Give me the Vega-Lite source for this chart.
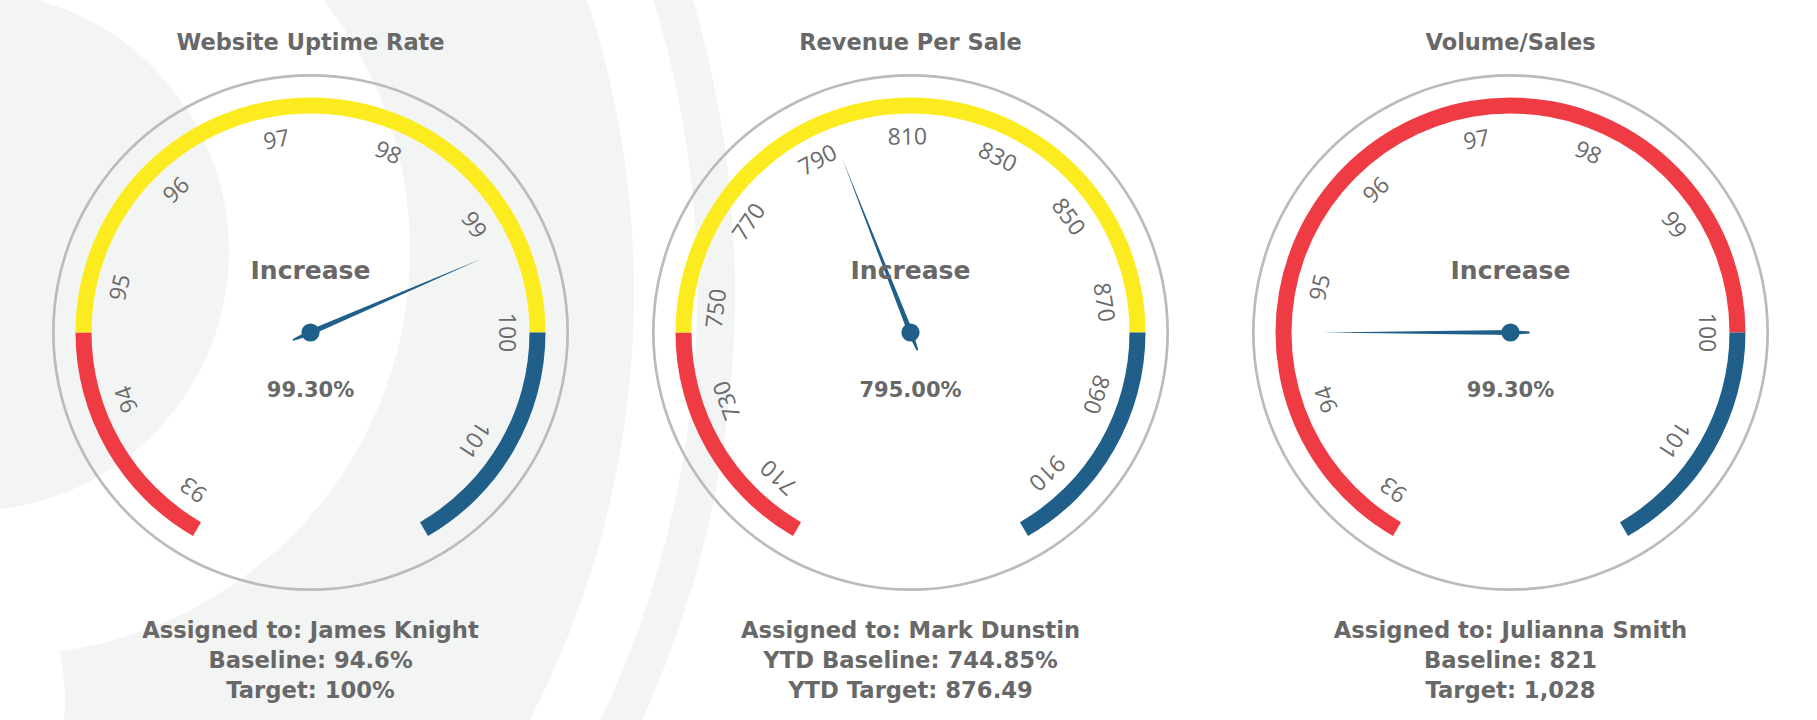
{
  "$schema": "https://vega.github.io/schema/vega-lite/v6.json",
  "width": 1817,
  "height": 720,
  "autosize": {"type": "fit", "contains": "padding"},
  "padding": 0,
  "background": "#ffffff",
  "config": {"view": {"stroke": null}, "text": {"font": "Open Sans"}},
  "datasets": {
    "gauges": [
      {"gauge": "Website Uptime Rate", "status": "Increase", "reading": "99.30%", "assigned": "Assigned to: James Knight", "baseline": "Baseline: 94.6%", "target": "Target: 100%"},
      {"gauge": "Revenue Per Sale", "status": "Increase", "reading": "795.00%", "assigned": "Assigned to: Mark Dunstin", "baseline": "YTD Baseline: 744.85%", "target": "YTD Target: 876.49"},
      {"gauge": "Volume/Sales", "status": "Increase", "reading": "99.30%", "assigned": "Assigned to: Julianna Smith", "baseline": "Baseline: 821", "target": "Target: 1,028"}
    ],
    "bands": [
      {"gauge": "Website Uptime Rate", "band": "low", "from": 92.8, "to": 94.6},
      {"gauge": "Website Uptime Rate", "band": "mid", "from": 94.6, "to": 100},
      {"gauge": "Website Uptime Rate", "band": "high", "from": 100, "to": 101.8},
      {"gauge": "Revenue Per Sale", "band": "low", "from": 700.97, "to": 744.85},
      {"gauge": "Revenue Per Sale", "band": "mid", "from": 744.85, "to": 876.49},
      {"gauge": "Revenue Per Sale", "band": "high", "from": 876.49, "to": 920.37},
      {"gauge": "Volume/Sales", "band": "low", "from": 92.8, "to": 100},
      {"gauge": "Volume/Sales", "band": "high", "from": 100, "to": 101.8}
    ],
    "ticks": [
      {"gauge": "Website Uptime Rate", "tick": 93}, {"gauge": "Website Uptime Rate", "tick": 94}, {"gauge": "Website Uptime Rate", "tick": 95},
      {"gauge": "Website Uptime Rate", "tick": 96}, {"gauge": "Website Uptime Rate", "tick": 97}, {"gauge": "Website Uptime Rate", "tick": 98},
      {"gauge": "Website Uptime Rate", "tick": 99}, {"gauge": "Website Uptime Rate", "tick": 100}, {"gauge": "Website Uptime Rate", "tick": 101},
      {"gauge": "Revenue Per Sale", "tick": 710}, {"gauge": "Revenue Per Sale", "tick": 730}, {"gauge": "Revenue Per Sale", "tick": 750},
      {"gauge": "Revenue Per Sale", "tick": 770}, {"gauge": "Revenue Per Sale", "tick": 790}, {"gauge": "Revenue Per Sale", "tick": 810},
      {"gauge": "Revenue Per Sale", "tick": 830}, {"gauge": "Revenue Per Sale", "tick": 850}, {"gauge": "Revenue Per Sale", "tick": 870},
      {"gauge": "Revenue Per Sale", "tick": 890}, {"gauge": "Revenue Per Sale", "tick": 910},
      {"gauge": "Volume/Sales", "tick": 93}, {"gauge": "Volume/Sales", "tick": 94}, {"gauge": "Volume/Sales", "tick": 95},
      {"gauge": "Volume/Sales", "tick": 96}, {"gauge": "Volume/Sales", "tick": 97}, {"gauge": "Volume/Sales", "tick": 98},
      {"gauge": "Volume/Sales", "tick": 99}, {"gauge": "Volume/Sales", "tick": 100}, {"gauge": "Volume/Sales", "tick": 101}
    ],
    "needles": [
      {"gauge": "Website Uptime Rate", "value": 99.3},
      {"gauge": "Revenue Per Sale", "value": 795},
      {"gauge": "Volume/Sales", "value": 94.6}
    ]
  },
  "encoding": {
    "x": {"field": "gauge", "type": "nominal", "axis": null,
      "scale": {"type": "point", "domain": ["Website Uptime Rate", "Revenue Per Sale", "Volume/Sales"], "range": [310.5, 1510.5], "padding": 0}},
    "y": {"field": "gauge", "type": "nominal", "axis": null,
      "scale": {"type": "point", "domain": ["Website Uptime Rate", "Revenue Per Sale", "Volume/Sales"], "range": [332.5, 332.5], "padding": 0}}
  },
  "layer": [
    {
      "data": {"name": "gauges"},
      "transform": [{"filter": "datum.gauge === 'Website Uptime Rate'"}],
      "layer": [
        {"mark": {"type": "arc", "theta": 0, "theta2": 6.2832, "radius": 1032, "radius2": 994, "color": "#f3f4f4", "xOffset": -607.5, "yOffset": -40.5, "clip": true}},
        {"mark": {"type": "arc", "theta": 0, "theta2": 6.2832, "radius": 931, "radius2": 0, "color": "#f3f4f4", "xOffset": -607.5, "yOffset": -40.5, "clip": true}},
        {"mark": {"type": "arc", "theta": 0, "theta2": 6.2832, "radius": 405, "radius2": 0, "color": "#ffffff", "xOffset": -305.5, "yOffset": -82.5, "clip": true}},
        {"mark": {"type": "arc", "theta": 0, "theta2": 6.2832, "radius": 205, "radius2": 0, "color": "#ffffff", "xOffset": -450.5, "yOffset": 367.5, "clip": true}},
        {"mark": {"type": "arc", "theta": 0, "theta2": 6.2832, "radius": 260, "radius2": 0, "color": "#f3f4f4", "xOffset": -341.5, "yOffset": -81.5, "clip": true}}
      ]
    },
    {
      "data": {"name": "gauges"},
      "mark": {"type": "arc", "theta": 0, "theta2": 6.2832, "radius": 258.5, "radius2": 255.8, "color": "#bbbbbb"}
    },
    {
      "layer": [
        {
          "data": {"name": "bands"},
          "transform": [{"filter": "datum.gauge === 'Website Uptime Rate'"}],
          "mark": {"type": "arc", "radius": 235, "radius2": 219},
          "encoding": {
            "theta": {"field": "from", "type": "quantitative", "stack": null, "scale": {"domain": [92.8, 101.8], "range": [-2.618, 2.618]}},
            "theta2": {"field": "to"},
            "color": {"field": "band", "type": "nominal", "legend": null, "scale": {"domain": ["low", "mid", "high"], "range": ["#ee3b44", "#fcec1f", "#1f5f8a"]}}
          }
        },
        {
          "data": {"name": "ticks"},
          "transform": [{"filter": "datum.gauge === 'Website Uptime Rate'"}],
          "mark": {"type": "text", "radius": 195, "fontSize": 23, "color": "#6a6a6a", "align": "center", "baseline": "middle"},
          "encoding": {
            "theta": {"field": "tick", "type": "quantitative", "stack": null, "scale": {"domain": [92.8, 101.8], "range": [-2.618, 2.618]}},
            "angle": {"field": "tick", "type": "quantitative", "scale": {"domain": [92.8, 101.8], "range": [-150, 150]}},
            "text": {"field": "tick", "type": "quantitative"}
          }
        },
        {
          "data": {"name": "needles"},
          "transform": [{"filter": "datum.gauge === 'Website Uptime Rate'"}],
          "mark": {"type": "point", "shape": "M0,-1L0.014,0L0.005,0.1L0,0.104L-0.005,0.1L-0.014,0Z", "filled": true, "size": 139876, "color": "#1f5f8a", "opacity": 1},
          "encoding": {
            "angle": {"field": "value", "type": "quantitative", "scale": {"domain": [92.8, 101.8], "range": [-150, 150]}}
          }
        }
      ]
    },
    {
      "layer": [
        {
          "data": {"name": "bands"},
          "transform": [{"filter": "datum.gauge === 'Revenue Per Sale'"}],
          "mark": {"type": "arc", "radius": 235, "radius2": 219},
          "encoding": {
            "theta": {"field": "from", "type": "quantitative", "stack": null, "scale": {"domain": [700.97, 920.37], "range": [-2.618, 2.618]}},
            "theta2": {"field": "to"},
            "color": {"field": "band", "type": "nominal", "legend": null, "scale": {"domain": ["low", "mid", "high"], "range": ["#ee3b44", "#fcec1f", "#1f5f8a"]}}
          }
        },
        {
          "data": {"name": "ticks"},
          "transform": [{"filter": "datum.gauge === 'Revenue Per Sale'"}],
          "mark": {"type": "text", "radius": 195, "fontSize": 23, "color": "#6a6a6a", "align": "center", "baseline": "middle"},
          "encoding": {
            "theta": {"field": "tick", "type": "quantitative", "stack": null, "scale": {"domain": [700.97, 920.37], "range": [-2.618, 2.618]}},
            "angle": {"field": "tick", "type": "quantitative", "scale": {"domain": [700.97, 920.37], "range": [-150, 150]}},
            "text": {"field": "tick", "type": "quantitative"}
          }
        },
        {
          "data": {"name": "needles"},
          "transform": [{"filter": "datum.gauge === 'Revenue Per Sale'"}],
          "mark": {"type": "point", "shape": "M0,-1L0.014,0L0.005,0.1L0,0.104L-0.005,0.1L-0.014,0Z", "filled": true, "size": 139876, "color": "#1f5f8a", "opacity": 1},
          "encoding": {
            "angle": {"field": "value", "type": "quantitative", "scale": {"domain": [700.97, 920.37], "range": [-150, 150]}}
          }
        }
      ]
    },
    {
      "layer": [
        {
          "data": {"name": "bands"},
          "transform": [{"filter": "datum.gauge === 'Volume/Sales'"}],
          "mark": {"type": "arc", "radius": 235, "radius2": 219},
          "encoding": {
            "theta": {"field": "from", "type": "quantitative", "stack": null, "scale": {"domain": [92.8, 101.8], "range": [-2.618, 2.618]}},
            "theta2": {"field": "to"},
            "color": {"field": "band", "type": "nominal", "legend": null, "scale": {"domain": ["low", "mid", "high"], "range": ["#ee3b44", "#fcec1f", "#1f5f8a"]}}
          }
        },
        {
          "data": {"name": "ticks"},
          "transform": [{"filter": "datum.gauge === 'Volume/Sales'"}],
          "mark": {"type": "text", "radius": 195, "fontSize": 23, "color": "#6a6a6a", "align": "center", "baseline": "middle"},
          "encoding": {
            "theta": {"field": "tick", "type": "quantitative", "stack": null, "scale": {"domain": [92.8, 101.8], "range": [-2.618, 2.618]}},
            "angle": {"field": "tick", "type": "quantitative", "scale": {"domain": [92.8, 101.8], "range": [-150, 150]}},
            "text": {"field": "tick", "type": "quantitative"}
          }
        },
        {
          "data": {"name": "needles"},
          "transform": [{"filter": "datum.gauge === 'Volume/Sales'"}],
          "mark": {"type": "point", "shape": "M0,-1L0.014,0L0.005,0.1L0,0.104L-0.005,0.1L-0.014,0Z", "filled": true, "size": 139876, "color": "#1f5f8a", "opacity": 1},
          "encoding": {
            "angle": {"field": "value", "type": "quantitative", "scale": {"domain": [92.8, 101.8], "range": [-150, 150]}}
          }
        }
      ]
    },
    {
      "data": {"name": "gauges"},
      "mark": {"type": "point", "shape": "circle", "filled": true, "size": 330, "color": "#1f5f8a", "opacity": 1}
    },
    {
      "data": {"name": "gauges"},
      "mark": {"type": "text", "font": "DejaVu Sans", "fontSize": 22.5, "fontWeight": "bold", "color": "#686868", "align": "center", "baseline": "alphabetic", "dy": -282.5},
      "encoding": {"text": {"field": "gauge"}}
    },
    {
      "data": {"name": "gauges"},
      "mark": {"type": "text", "font": "DejaVu Sans", "fontSize": 25, "fontWeight": "bold", "color": "#686868", "align": "center", "baseline": "alphabetic", "dy": -53.2},
      "encoding": {"text": {"field": "status"}}
    },
    {
      "data": {"name": "gauges"},
      "mark": {"type": "text", "font": "DejaVu Sans", "fontSize": 21, "fontWeight": "bold", "color": "#686868", "align": "center", "baseline": "alphabetic", "dy": 64.8},
      "encoding": {"text": {"field": "reading"}}
    },
    {
      "data": {"name": "gauges"},
      "mark": {"type": "text", "font": "DejaVu Sans", "fontSize": 22.7, "fontWeight": "bold", "color": "#686868", "align": "center", "baseline": "alphabetic", "dy": 305.8},
      "encoding": {"text": {"field": "assigned"}}
    },
    {
      "data": {"name": "gauges"},
      "mark": {"type": "text", "font": "DejaVu Sans", "fontSize": 22.7, "fontWeight": "bold", "color": "#686868", "align": "center", "baseline": "alphabetic", "dy": 335.5},
      "encoding": {"text": {"field": "baseline"}}
    },
    {
      "data": {"name": "gauges"},
      "mark": {"type": "text", "font": "DejaVu Sans", "fontSize": 22.7, "fontWeight": "bold", "color": "#686868", "align": "center", "baseline": "alphabetic", "dy": 365.5},
      "encoding": {"text": {"field": "target"}}
    }
  ],
  "resolve": {"scale": {"theta": "independent", "angle": "independent"}}
}
